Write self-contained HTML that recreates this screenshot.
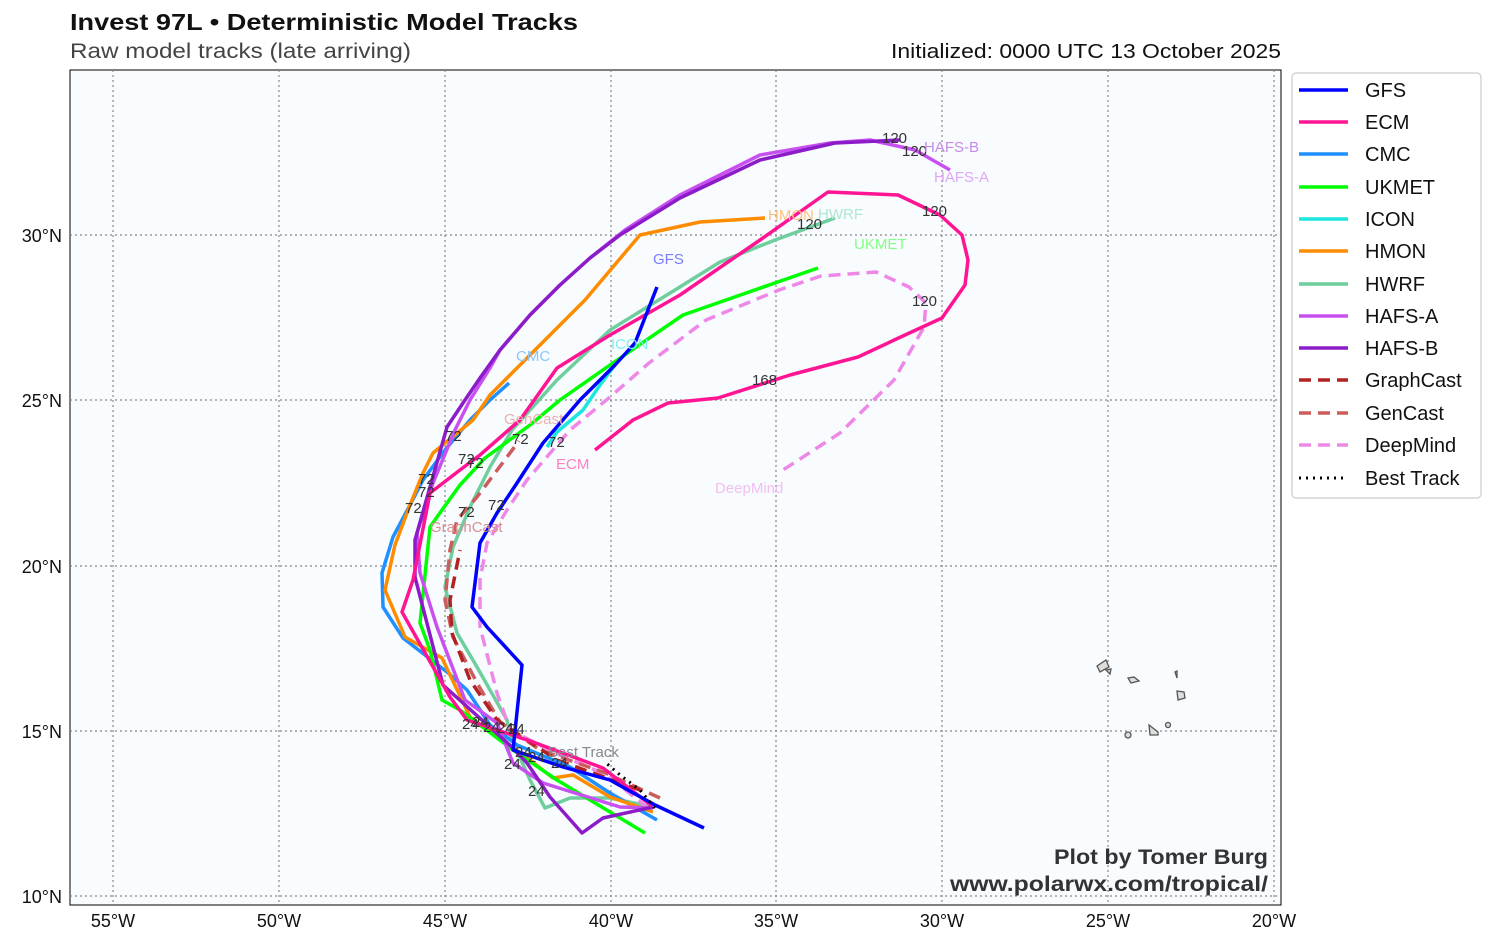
<!DOCTYPE html>
<html><head><meta charset="utf-8"><style>
body{margin:0;background:#fff;width:1494px;height:945px;overflow:hidden;font-family:"Liberation Sans","DejaVu Sans",sans-serif}
</style></head><body>
<svg width="1494" height="945" xmlns="http://www.w3.org/2000/svg" font-family="Liberation Sans, DejaVu Sans, sans-serif">
<text x="70" y="30" font-size="23" font-weight="bold" fill="#111" textLength="508" lengthAdjust="spacingAndGlyphs">Invest 97L • Deterministic Model Tracks</text>
<text x="70" y="58" font-size="21" fill="#444" textLength="341" lengthAdjust="spacingAndGlyphs">Raw model tracks (late arriving)</text>
<text x="891" y="58" font-size="20" fill="#111" textLength="390" lengthAdjust="spacingAndGlyphs">Initialized: 0000 UTC 13 October 2025</text>
<rect x="70" y="70" width="1211" height="835" fill="#f8fcff" stroke="#000" stroke-width="1"/>
<g stroke="#888" stroke-width="1.2" stroke-dasharray="2,3">
<line x1="113" y1="70" x2="113" y2="905"/><line x1="279" y1="70" x2="279" y2="905"/><line x1="445" y1="70" x2="445" y2="905"/><line x1="611" y1="70" x2="611" y2="905"/><line x1="776" y1="70" x2="776" y2="905"/><line x1="942" y1="70" x2="942" y2="905"/><line x1="1108" y1="70" x2="1108" y2="905"/><line x1="1274" y1="70" x2="1274" y2="905"/>
<line x1="70" y1="235" x2="1281" y2="235"/><line x1="70" y1="400" x2="1281" y2="400"/><line x1="70" y1="566" x2="1281" y2="566"/><line x1="70" y1="731" x2="1281" y2="731"/><line x1="70" y1="896" x2="1281" y2="896"/>
</g>
<g font-size="18" fill="#111" text-anchor="middle">
<text x="113" y="927">55°W</text><text x="279" y="927">50°W</text><text x="445" y="927">45°W</text><text x="611" y="927">40°W</text><text x="776" y="927">35°W</text><text x="942" y="927">30°W</text><text x="1108" y="927">25°W</text><text x="1274" y="927">20°W</text>
</g>
<g font-size="18" fill="#111" text-anchor="end">
<text x="62" y="242">30°N</text><text x="62" y="407">25°N</text><text x="62" y="573">20°N</text><text x="62" y="738">15°N</text><text x="62" y="903">10°N</text>
</g>
<g fill="#ddd" stroke="#555" stroke-width="1.3">
<path d="M1097,666 L1106,660 L1109,667 L1100,672 Z"/><path d="M1106,670 L1111,669 L1110,674 Z"/>
<path d="M1128,678 L1134,677 L1139,681 L1131,683 Z"/><path d="M1175,672 L1177,671 L1177,678 Z"/>
<path d="M1177,691 L1184,692 L1185,698 L1178,700 Z"/><path d="M1149,725 L1158,732 L1158,735 L1150,735 Z"/>
<circle cx="1128" cy="735" r="3"/><circle cx="1168" cy="725" r="2.5"/>
</g>
<g fill="none" stroke-width="3.5" stroke-linejoin="round" stroke-linecap="butt">
<polyline stroke="#6ece9d" points="653,807 610,798 570,798 545,808 530,780 510,735 507,720 477,667 457,633 445,587 453,547 470,507 490,467 512,430 557,380 610,330 675,290 720,262 775,240 835,218"/>
<polyline stroke="#ee88e6" stroke-dasharray="12,7" points="648,808 607,775 560,755 510,730 497,693 480,627 480,580 487,543 507,510 527,480 570,430 610,397 649,363 706,320 779,290 821,276 876,272 909,287 926,303 924,327 894,380 840,433 783,470"/>
<polyline stroke="#cd5c5c" stroke-dasharray="12,7" points="660,798 603,772 540,750 500,722 477,683 453,637 445,600 450,550 457,520 477,497 519,441"/>
<polyline stroke="#b22222" stroke-dasharray="12,7" points="640,790 557,760 497,720 470,680 452,633 450,600 460,550"/>
<polyline stroke="#1e90ff" points="657,820 610,793 570,767 517,745 490,725 467,690 447,672 403,638 383,607 382,573 393,537 410,505 423,480 445,450 470,420 490,400 509,383"/>
<polyline stroke="#ff8c00" points="653,812 610,797 573,775 553,778 530,760 470,717 442,658 405,637 385,590 395,545 410,505 423,473 433,453 473,420 490,395 510,375 555,330 585,300 640,235 700,222 765,218"/>
<polyline stroke="#00ff00" points="645,833 610,812 557,780 513,750 460,710 442,700 430,650 420,623 430,527 442,510 460,485 485,458 530,425 560,400 610,365 683,315 818,268"/>
<polyline stroke="#1de6e0" points="547,447 557,432 583,410 600,385 615,365"/>
<polyline stroke="#c850f0" points="653,808 620,807 543,783 513,763 497,723 465,700 437,627 420,573 417,533 433,483 455,430 470,400 490,368 500,350 530,315 560,285 590,258 625,230 680,195 760,155 830,143 870,140 915,150 950,170"/>
<polyline stroke="#8b1cc8" points="653,807 603,818 582,833 550,797 527,763 513,748 443,685 415,577 415,540 447,427 465,400 480,378 500,350 530,315 560,285 590,258 620,235 680,198 760,160 835,143 900,140"/>
<polyline stroke="#ff1493" points="652,806 603,768 533,742 467,720 450,697 402,612 413,580 430,493 460,470 480,455 520,420 557,368 610,335 680,295 760,240 828,192 898,195 940,215 962,235 968,260 965,285 942,318 905,335 858,357 790,375 718,398 668,403 633,420 595,450"/>
<polyline stroke="#0000ff" points="704,828 655,805 610,780 563,767 513,750 522,665 487,627 472,607 480,543 497,513 517,483 543,443 580,400 615,365 635,343 657,287"/>
<polyline stroke="#000" stroke-width="3" stroke-dasharray="2,5" points="655,808 640,790 620,775 605,762"/>
</g>
<g font-size="15" fill="#333">
<text x="445" y="441">72</text><text x="458" y="464">72</text><text x="467" y="468">72</text><text x="418" y="484">72</text><text x="418" y="497">72</text><text x="405" y="513">72</text><text x="458" y="517">72</text><text x="488" y="510">72</text><text x="512" y="444">72</text><text x="548" y="447">72</text>
<text x="462" y="729">24</text><text x="472" y="727">24</text><text x="483" y="732">24</text><text x="497" y="733">24</text><text x="508" y="734">24</text><text x="515" y="757">24</text><text x="528" y="762">24</text><text x="504" y="769">24</text><text x="551" y="768">24</text><text x="528" y="796">24</text>
<text x="882" y="143">120</text><text x="902" y="156">120</text><text x="922" y="216">120</text><text x="797" y="229">120</text><text x="912" y="306">120</text><text x="752" y="385">168</text>
</g>
<g font-size="15">
<text x="653" y="264" fill="#7b7bff">GFS</text><text x="556" y="469" fill="#ff7fbf">ECM</text><text x="516" y="361" fill="#8ec6ff">CMC</text><text x="854" y="249" fill="#80ff80">UKMET</text><text x="611" y="349" fill="#80eeee">ICON</text><text x="768" y="220" fill="#ffc07f">HMON</text><text x="818" y="219" fill="#aee6d2">HWRF</text><text x="934" y="182" fill="#e0a6f5">HAFS-A</text><text x="924" y="152" fill="#c58be6">HAFS-B</text><text x="430" y="532" fill="#d89090">GraphCast</text><text x="504" y="424" fill="#e8b0b0">GenCast</text><text x="715" y="493" fill="#f2bff0">DeepMind</text><text x="548" y="757" fill="#888">Best Track</text>
</g>
<text x="1054" y="864" font-size="21" font-weight="bold" fill="#333" textLength="214" lengthAdjust="spacingAndGlyphs">Plot by Tomer Burg</text>
<text x="950" y="891" font-size="21" font-weight="bold" fill="#333" textLength="318" lengthAdjust="spacingAndGlyphs">www.polarwx.com/tropical/</text>
<rect x="1292" y="73" width="189" height="425" rx="4" fill="#fff" stroke="#ccc" stroke-width="1.2"/>
<g stroke-width="3.5" fill="none">
<line x1="1299" y1="90" x2="1348" y2="90" stroke="#0000ff"/>
<line x1="1299" y1="122" x2="1348" y2="122" stroke="#ff1493"/>
<line x1="1299" y1="154" x2="1348" y2="154" stroke="#1e90ff"/>
<line x1="1299" y1="187" x2="1348" y2="187" stroke="#00ff00"/>
<line x1="1299" y1="219" x2="1348" y2="219" stroke="#1de6e0"/>
<line x1="1299" y1="251" x2="1348" y2="251" stroke="#ff8c00"/>
<line x1="1299" y1="284" x2="1348" y2="284" stroke="#6ece9d"/>
<line x1="1299" y1="316" x2="1348" y2="316" stroke="#c850f0"/>
<line x1="1299" y1="348" x2="1348" y2="348" stroke="#8b1cc8"/>
<line x1="1299" y1="380" x2="1348" y2="380" stroke="#b22222" stroke-dasharray="12,7"/>
<line x1="1299" y1="413" x2="1348" y2="413" stroke="#cd5c5c" stroke-dasharray="12,7"/>
<line x1="1299" y1="445" x2="1348" y2="445" stroke="#ee88e6" stroke-dasharray="12,7"/>
<line x1="1299" y1="478" x2="1348" y2="478" stroke="#000" stroke-width="3" stroke-dasharray="2,5"/>
</g>
<g font-size="20" fill="#111">
<text x="1365" y="97">GFS</text><text x="1365" y="129">ECM</text><text x="1365" y="161">CMC</text><text x="1365" y="194">UKMET</text><text x="1365" y="226">ICON</text><text x="1365" y="258">HMON</text><text x="1365" y="291">HWRF</text><text x="1365" y="323">HAFS-A</text><text x="1365" y="355">HAFS-B</text><text x="1365" y="387">GraphCast</text><text x="1365" y="420">GenCast</text><text x="1365" y="452">DeepMind</text><text x="1365" y="485">Best Track</text>
</g>
</svg>
</body></html>
